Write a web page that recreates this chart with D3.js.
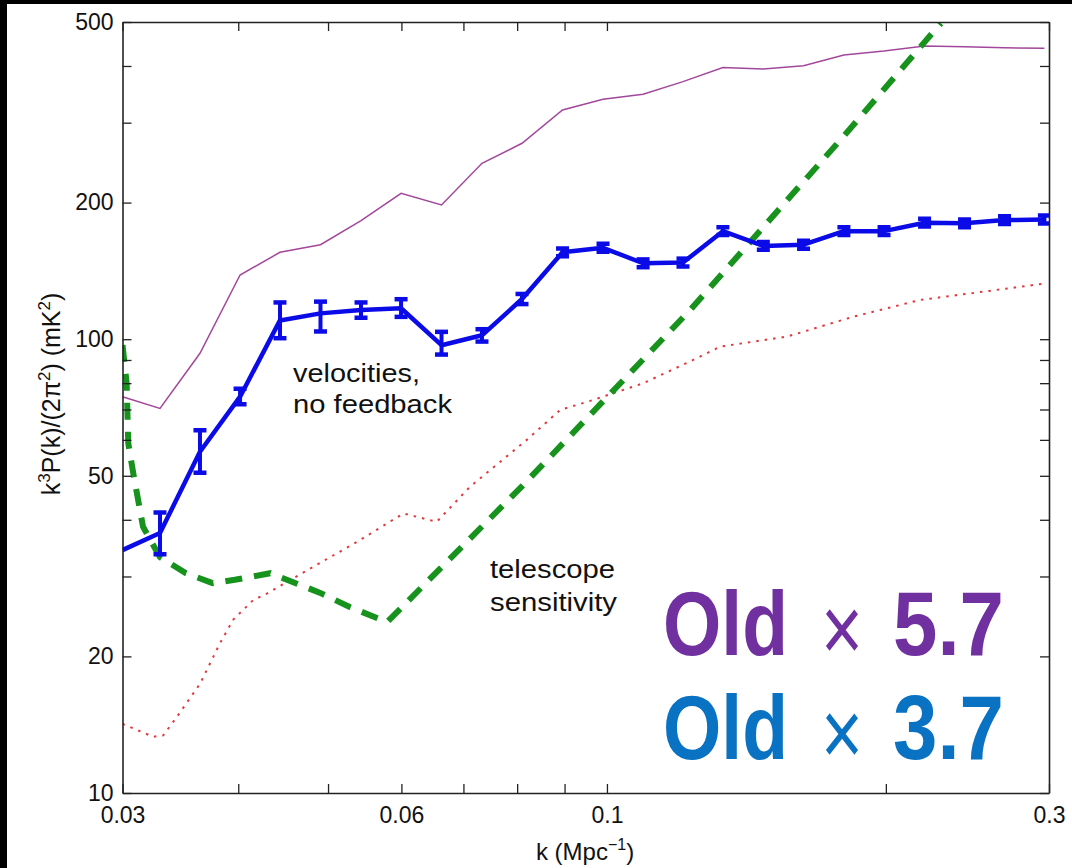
<!DOCTYPE html>
<html>
<head>
<meta charset="utf-8">
<script src="https://cdn.jsdelivr.net/npm/d3@7"></script>
<style>
  html, body { margin: 0; padding: 0; background: #000; }
  svg { display: block; }
</style>
</head>
<body>
<svg id="chart" width="1072" height="868"></svg>
<script>
// Wavenumbers of the simulated power spectrum bins (Mpc^-1)
const kBins = [0.03, 0.03293, 0.03637, 0.04018, 0.04437, 0.04907, 0.05427, 0.05995,
  0.06629, 0.0733, 0.08097, 0.08955, 0.09903, 0.1094, 0.1208, 0.1334, 0.1475,
  0.163, 0.1802, 0.1991, 0.2202, 0.2432, 0.2686, 0.2966];

// Velocities, no feedback: k^3 P(k)/(2 pi^2) in mK^2, with error bar limits
const velocityPower = [34.3, 37.4, 56.5, 74.7, 110.0, 114.0, 116.0, 117.0, 97.0, 102.0,
  122.6, 155.4, 159.0, 147.0, 147.5, 173.0, 160.5, 161.5, 173.0, 173.0, 180.6, 180.0, 183.0, 183.5];
const velocityLow = [null, 33.6, 50.8, 71.9, 100.5, 104.0, 111.5, 112.0, 92.5, 98.8,
  119.5, 152.3, 155.8, 144.1, 144.6, 169.6, 157.4, 158.3, 169.6, 169.6, 177.1, 176.5, 179.4, 179.9];
const velocityHigh = [null, 41.5, 63.0, 77.8, 120.5, 121.0, 120.5, 122.5, 103.8, 105.2,
  125.8, 158.5, 162.2, 149.9, 150.5, 176.5, 163.7, 164.7, 176.5, 176.5, 184.2, 183.6, 186.7, 187.2];

// Stronger-signal model (thin purple curve)
const strongPower = [74.7, 70.4, 93.1, 138.5, 155.4, 161.5, 182.4, 209.6, 197.6, 244.1,
  270.2, 320.0, 337.9, 346.6, 369.4, 396.9, 393.9, 400.6, 423.0, 431.6, 442.7, 441.0, 438.6, 437.6];

// Weaker-signal model (red dotted curve)
const weakK = [0.03, 0.03238, 0.0332, 0.03433, 0.03637, 0.03823, 0.03951, 0.0415, 0.04294,
  0.05414, 0.0603, 0.06551, 0.07115, 0.08194, 0.089, 0.09667, 0.1095, 0.1239, 0.1325,
  0.1564, 0.1845, 0.2177, 0.2983];
const weakPower = [14.2, 13.3, 13.4, 14.7, 17.4, 21.4, 24.1, 26.6, 27.5,
  36.1, 41.3, 39.6, 47.3, 60.0, 69.8, 73.5, 80.0, 90.0, 96.3,
  101.3, 112.1, 122.0, 132.8];

// Telescope sensitivity (green dashed curve)
const sensK = [0.03, 0.03031, 0.03043, 0.03081, 0.03157, 0.03293, 0.03513, 0.03752,
  0.03966, 0.04331, 0.04904, 0.05277, 0.0579, 0.0812, 0.123, 0.1798, 0.2293];
const sensPower = [97.1, 80.1, 59.1, 50.7, 38.6, 33.1, 30.5, 29.0,
  29.5, 30.5, 27.6, 25.7, 23.8, 47.7, 116.0, 279.0, 497.0];

// Axis ticks
const xTicks = [0.03, 0.04, 0.05, 0.06, 0.07, 0.08, 0.09, 0.1, 0.2, 0.3];
const xTickLabels = ["0.03", "", "", "0.06", "", "", "", "0.1", "", "0.3"];
const yTicks = [10, 20, 30, 40, 50, 60, 70, 80, 90, 100, 200, 300, 400, 500];
const yTickLabels = ["10", "20", "", "", "50", "", "", "", "", "100", "200", "", "", "500"];

// Scaling factors shown in the callouts
const scaleFactors = ["5.7", "3.7"];
const scaleColors = ["#7030a0", "#0a72c2"];

const svg = d3.select("#chart");
const font = "'Liberation Sans', Arial, sans-serif";

// white page area
svg.append("rect").attr("x", 7).attr("y", 4).attr("width", 1065).attr("height", 864).attr("fill", "#fff");

const L = 122.5, R = 1049, T = 22, B = 793;
const x = d3.scaleLog().domain([0.03, 0.3]).range([L, R]);
const y = d3.scaleLog().domain([10, 500]).range([B, T]);

svg.append("clipPath").attr("id", "plotClip")
  .append("rect").attr("x", L).attr("y", T).attr("width", R - L).attr("height", B - T);

const plot = svg.append("g").attr("clip-path", "url(#plotClip)");

const line = d3.line().x(d => x(d[0])).y(d => y(d[1]));

// purple model curve
plot.append("path")
  .datum(kBins.map((k, i) => [k, strongPower[i]]))
  .attr("d", line).attr("fill", "none")
  .attr("stroke", "#a2489c").attr("stroke-width", 1.5);

// red dotted model curve
plot.append("path")
  .datum(weakK.map((k, i) => [k, weakPower[i]]))
  .attr("d", line).attr("fill", "none")
  .attr("stroke", "#e0393c").attr("stroke-width", 2)
  .attr("stroke-dasharray", "2.5,6");

// green dashed sensitivity curve
plot.append("path")
  .datum(sensK.map((k, i) => [k, sensPower[i]]))
  .attr("d", line).attr("fill", "none")
  .attr("stroke", "#17931d").attr("stroke-width", 6)
  .attr("stroke-dasharray", "17,12");

// blue velocity curve with error bars
const blue = "#0b0be8";
plot.append("path")
  .datum(kBins.map((k, i) => [k, velocityPower[i]]))
  .attr("d", line).attr("fill", "none")
  .attr("stroke", blue).attr("stroke-width", 4.5).attr("stroke-linejoin", "round");

const bars = plot.append("g").selectAll("g")
  .data(kBins.map((k, i) => ({ k, lo: velocityLow[i], hi: velocityHigh[i] })).filter(d => d.lo !== null))
  .join("g").attr("stroke", blue);
bars.append("line")
  .attr("x1", d => x(d.k)).attr("x2", d => x(d.k))
  .attr("y1", d => y(d.lo)).attr("y2", d => y(d.hi))
  .attr("stroke-width", 4);
bars.append("line")
  .attr("x1", d => x(d.k) - 6.5).attr("x2", d => x(d.k) + 6.5)
  .attr("y1", d => y(d.hi)).attr("y2", d => y(d.hi))
  .attr("stroke-width", 4.5);
bars.append("line")
  .attr("x1", d => x(d.k) - 6.5).attr("x2", d => x(d.k) + 6.5)
  .attr("y1", d => y(d.lo)).attr("y2", d => y(d.lo))
  .attr("stroke-width", 4.5);

// axes: ticks point inward on all four sides
const axisColor = "#222";
function styleAxis(g) {
  g.select(".domain").attr("stroke", axisColor).attr("stroke-width", 1.6);
  g.selectAll(".tick line").attr("stroke", axisColor).attr("stroke-width", 1.3);
  g.selectAll(".tick text").attr("fill", "#111").style("font-family", font).style("font-size", "23px");
}

svg.append("g").attr("transform", `translate(0,${B})`)
  .call(d3.axisBottom(x).tickValues(xTicks).tickSize(-9).tickSizeOuter(0).tickPadding(14)
    .tickFormat((d, i) => xTickLabels[i]))
  .call(styleAxis);
svg.append("g").attr("transform", `translate(0,${T})`)
  .call(d3.axisTop(x).tickValues(xTicks).tickSize(-9).tickSizeOuter(0).tickFormat(""))
  .call(styleAxis);
svg.append("g").attr("transform", `translate(${L},0)`)
  .call(d3.axisLeft(y).tickValues(yTicks).tickSize(-9).tickSizeOuter(0).tickPadding(9)
    .tickFormat((d, i) => yTickLabels[i]))
  .call(styleAxis);
svg.append("g").attr("transform", `translate(${R},0)`)
  .call(d3.axisRight(y).tickValues(yTicks).tickSize(-9).tickSizeOuter(0).tickFormat(""))
  .call(styleAxis);

// axis titles
const xTitle = svg.append("text").attr("x", 585).attr("y", 860)
  .attr("text-anchor", "middle").style("font-family", font).style("font-size", "24px").attr("fill", "#111");
xTitle.append("tspan").text("k (Mpc");
xTitle.append("tspan").attr("dy", -10).style("font-size", "16px").text("\u22121");
xTitle.append("tspan").attr("dy", 10).text(")");

const yTitle = svg.append("text").attr("transform", "translate(60,394) rotate(-90)")
  .attr("text-anchor", "middle").style("font-family", font).style("font-size", "25px").attr("fill", "#111");
yTitle.append("tspan").text("k");
yTitle.append("tspan").attr("dy", -10).style("font-size", "17px").text("3");
yTitle.append("tspan").attr("dy", 10).text("P(k)/(2\u03c0");
yTitle.append("tspan").attr("dy", -10).style("font-size", "17px").text("2");
yTitle.append("tspan").attr("dy", 10).text(") (mK");
yTitle.append("tspan").attr("dy", -10).style("font-size", "17px").text("2");
yTitle.append("tspan").attr("dy", 10).text(")");

// curve annotations
const notes = [
  { text: "velocities,", x: 293, y: 382, w: 127 },
  { text: "no feedback", x: 293, y: 413, w: 159 },
  { text: "telescope", x: 490, y: 578, w: 125 },
  { text: "sensitivity", x: 490, y: 611, w: 127 }
];
svg.append("g").selectAll("text").data(notes).join("text")
  .attr("x", d => d.x).attr("y", d => d.y)
  .attr("textLength", d => d.w).attr("lengthAdjust", "spacingAndGlyphs")
  .style("font-family", font).style("font-size", "26px").attr("fill", "#111")
  .text(d => d.text);

// scaling callouts: "Old", a light multiplication sign, then the factor
const baselines = [655, 759];
const pieces = [];
scaleFactors.forEach((f, i) => {
  pieces.push({ text: "Old", x: 663, w: 125, y: baselines[i], weight: 700, size: 90, color: scaleColors[i] });
  pieces.push({ text: "\u00d7", x: 821, w: 42, y: baselines[i] + 6, weight: 400, size: 92, color: scaleColors[i] });
  pieces.push({ text: f, x: 893, w: 111, y: baselines[i], weight: 700, size: 90, color: scaleColors[i] });
});
svg.append("g").selectAll("text").data(pieces).join("text")
  .attr("x", d => d.x).attr("y", d => d.y)
  .attr("textLength", d => d.w).attr("lengthAdjust", "spacingAndGlyphs")
  .style("font-family", font).style("font-weight", d => d.weight)
  .style("font-size", d => d.size + "px")
  .attr("fill", d => d.color)
  .text(d => d.text);
</script>
</body>
</html>
